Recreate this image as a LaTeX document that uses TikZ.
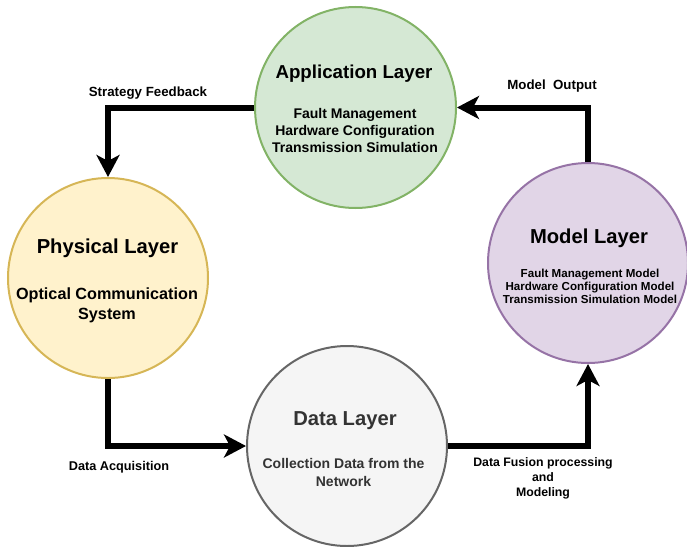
\documentclass[tikz,border=0pt]{standalone}
\usepackage{fontspec}
\setmainfont{Liberation Sans}
\usetikzlibrary{arrows.meta}
\definecolor{appfill}{HTML}{D5E8D4}
\definecolor{appdraw}{HTML}{82B366}
\definecolor{phyfill}{HTML}{FFF2CC}
\definecolor{phydraw}{HTML}{D6B656}
\definecolor{modfill}{HTML}{E1D5E7}
\definecolor{moddraw}{HTML}{9673A6}
\definecolor{datfill}{HTML}{F5F5F5}
\definecolor{datdraw}{HTML}{666666}
\definecolor{dattext}{HTML}{333333}
\newcommand{\fsz}[2]{\fontsize{#1}{#2}\selectfont\bfseries}
\begin{document}
\begin{tikzpicture}[x=1pt,y=-1pt,
  layer/.style={circle,inner sep=0pt,line width=2pt,minimum size=200pt},
  conn/.style={line width=6pt,line join=miter,-{Stealth[length=22pt,width=23pt,inset=6pt]}},
  lbl/.style={inner sep=0pt,align=center}]
\useasboundingbox (0,0) rectangle (687,546);
% circles
\node[layer,fill=appfill,draw=appdraw,minimum size=201pt] (app) at (355.5,107.5) {};
\node[layer,fill=phyfill,draw=phydraw] (phys) at (108,278) {};
\node[layer,fill=modfill,draw=moddraw] (model) at (588,263) {};
\node[layer,fill=datfill,draw=datdraw] (data) at (347,446) {};
% texts
\node[lbl,font=\fsz{18.7}{22}] (appT) at (354,74) {Application Layer};
\node[lbl,font=\fsz{14}{16.8}] (appS) at (355,130.5) {Fault Management\\Hardware Configuration\\Transmission Simulation};
\node[lbl,font=\fsz{20.2}{24}] (physT) at (107.5,248.5) {Physical Layer};
\node[lbl,font=\fsz{16.2}{20}] (physS) at (107,305) {Optical Communication\\System};
\node[lbl,font=\fsz{20.2}{24}] (modelT) at (589,238.5) {Model Layer};
\node[lbl,font=\fsz{11.6}{12.8}] (modelS) at (590,286.5) {Fault Management Model\\Hardware Configuration Model\\Transmission Simulation Model};
\node[lbl,font=\fsz{20.2}{24},text=dattext] (dataT) at (345,420.5) {Data Layer};
\node[lbl,font=\fsz{14}{17.4},text=dattext] (dataS) at (343.5,472.5) {Collection Data from the\\Network};
% connectors
\draw[conn] (app.west) -| (phys.north);
\draw[conn] (phys.south) |- (data.west);
\draw[conn] (data.east) -| (model.south);
\draw[conn] (model.north) |- (app.east);
% connector labels
\node[lbl,font=\fsz{13.3}{16}] (lsf) at (148,93) {Strategy Feedback};
\node[lbl,font=\fsz{13.3}{16}] (lmo) at (552,86) {Model\ \ Output};
\node[lbl,font=\fsz{12.7}{15}] (lda) at (119,467) {Data Acquisition};
\node[lbl,font=\fsz{12.3}{14.7}] (ldf) at (543,478.5) {Data Fusion processing\\and\\Modeling};
\end{tikzpicture}
\end{document}
